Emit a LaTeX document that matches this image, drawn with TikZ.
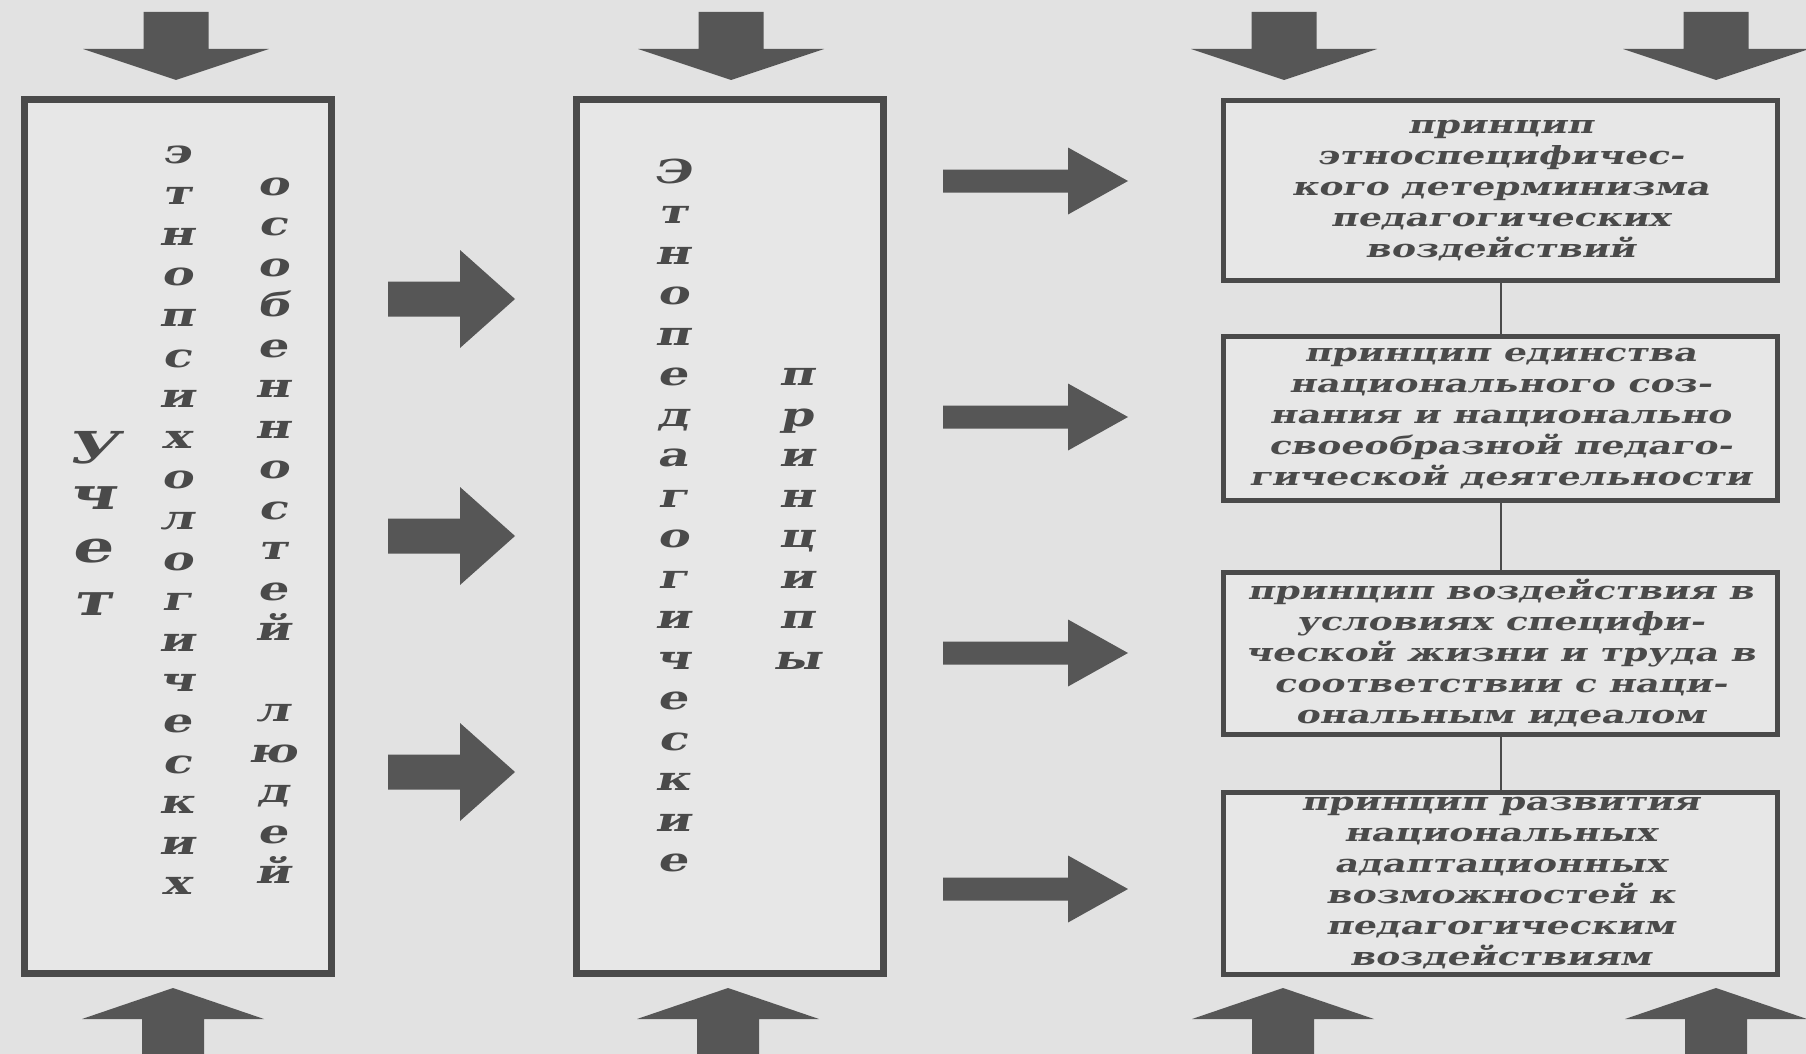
\documentclass[tikz,border=0pt]{standalone}
\usepackage{fontspec}
\setmainfont{DejaVu Serif}
\newfontfamily\slantfont{DejaVu Serif}[FakeStretch=1.45, FakeSlant=0.22]

\definecolor{paper}{HTML}{E2E2E2}
\definecolor{boxfill}{HTML}{E7E7E7}
\definecolor{ink}{HTML}{4A4A4A}
\definecolor{arrowink}{HTML}{565656}

\tikzset{
  letter/.style={font=\slantfont\fontsize{33}{33}\selectfont\bfseries, text=ink, anchor=base, inner sep=0pt},
  bigletter/.style={letter, font=\slantfont\fontsize{44}{44}\selectfont\bfseries},
  colbox/.style={draw=ink, line width=7, fill=boxfill, minimum width=307, minimum height=874, inner sep=0pt},
  pbox/.style={draw=ink, line width=5, fill=boxfill, minimum width=554, inner sep=0pt, align=center, text=ink,
    font=\slantfont\fontsize{25}{31}\selectfont\bfseries},
  link/.style={draw=ink, line width=2},
}

\begin{document}
\begin{tikzpicture}[x=1pt, y=-1pt]

%% page: 1806 x 1054, y runs downwards
\fill[paper] (0,0) rectangle (1806,1054);
\useasboundingbox (0,0) rectangle (1806,1054);

%% ---------- the two tall boxes ----------
\node[colbox] (ucet) at (177.5,536.5) {};
\node[colbox] (ethnoped) at (729.5,536.5) {};

%% letters of the first box, one under the other
\foreach \ch/\yb [count=\i] in {У/463, ч/509, е/562, т/615}
  \node[bigletter] (uc\i) at (92,\yb) {\ch};
\foreach \ch [count=\i from 0] in {э,т,н,о,п,с,и,х,о,л,о,г,и,ч,е,с,к,и,х}
  \node[letter] (ep\i) at (177,164+40.6*\i) {\ch};
\foreach \ch [count=\i from 0] in {о,с,о,б,е,н,н,о,с,т,е,й}
  \node[letter] (os\i) at (273,195+40.5*\i) {\ch};
\foreach \ch [count=\i from 13] in {л,ю,д,е,й}
  \node[letter] (lj\i) at (273,195+40.5*\i) {\ch};

%% letters of the second box
\foreach \ch [count=\i from 0] in {Э,т,н,о,п,е,д,а,г,о,г,и,ч,е,с,к,и,е}
  \node[letter] (et\i) at (673,183+40.5*\i) {\ch};
\foreach \ch [count=\i from 5] in {п,р,и,н,ц,и,п,ы}
  \node[letter] (pr\i) at (797,183+40.5*\i) {\ch};

%% ---------- the four principles ----------
\node[pbox, minimum height=180] (pA) at (1500.5,190.5)
  {принцип\\этноспецифичес-\\кого детерминизма\\педагогических\\воздействий};
\node[pbox, minimum height=164] (pB) at (1500.5,418.5)
  {принцип единства\\национального соз-\\нания и национально\\своеобразной педаго-\\гической деятельности};
\node[pbox, minimum height=162] (pC) at (1500.5,653.5)
  {принцип воздействия в\\условиях специфи-\\ческой жизни и труда в\\соответствии с наци-\\ональным идеалом};
\node[pbox, minimum height=182] (pD) at (1500.5,883.5)
  {принцип развития\\национальных\\адаптационных\\возможностей к\\педагогическим\\воздействиям};

\draw[link] (pA) -- (pB);
\draw[link] (pB) -- (pC);
\draw[link] (pC) -- (pD);

%% ---------- block arrows ----------
%% from above, pointing down
\foreach \x in {176,731,1284,1716}
  \fill[arrowink] (\x-32.5,12) -- (\x+32.5,12) -- (\x+32.5,49) -- (\x+93,49)
    -- (\x,80) -- (\x-93,49) -- (\x-32.5,49) -- cycle;

%% from below, pointing up
\foreach \x in {173,728,1283,1716}
  \fill[arrowink] (\x-31,1054) -- (\x-31,1019) -- (\x-91,1019) -- (\x,988)
    -- (\x+91,1019) -- (\x+31,1019) -- (\x+31,1054) -- cycle;

%% first box to second box
\foreach \y in {299,536,772}
  \fill[arrowink] (388,\y-17.5) -- (460,\y-17.5) -- (460,\y-49) -- (515,\y)
    -- (460,\y+49) -- (460,\y+17.5) -- (388,\y+17.5) -- cycle;

%% second box to the principles
\foreach \y in {181,417,653,889}
  \fill[arrowink] (943,\y-11.5) -- (1068,\y-11.5) -- (1068,\y-33.5) -- (1128,\y)
    -- (1068,\y+33.5) -- (1068,\y+11.5) -- (943,\y+11.5) -- cycle;

\end{tikzpicture}
\end{document}
